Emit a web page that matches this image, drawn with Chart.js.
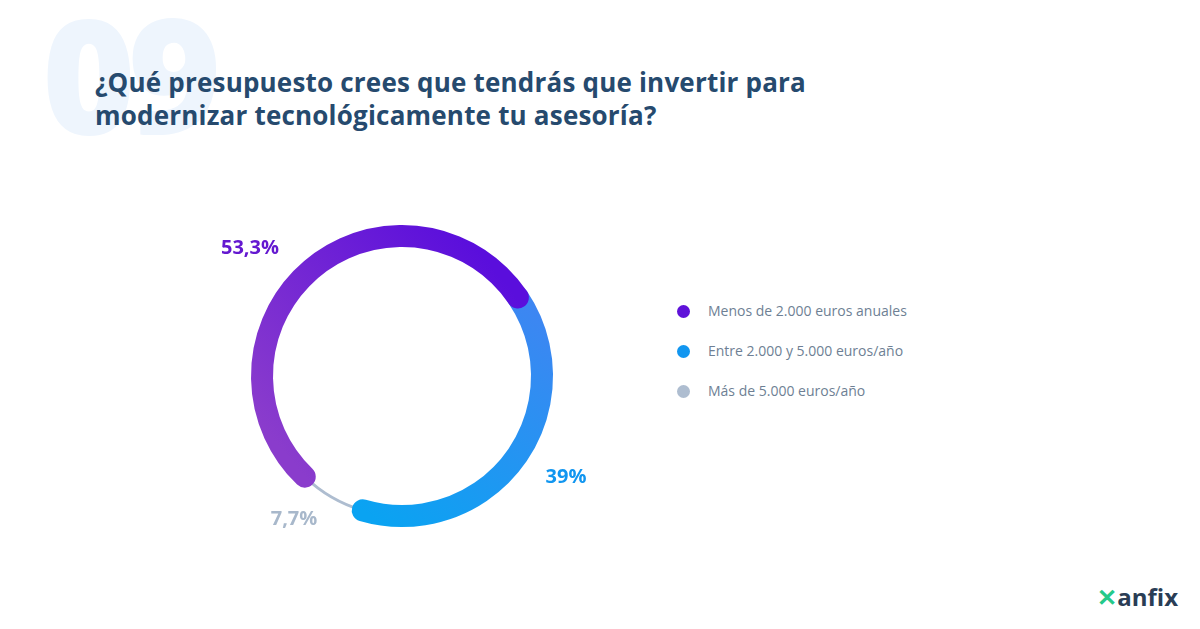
<!DOCTYPE html>
<html>
<head>
<meta charset="utf-8">
<script src="https://cdn.jsdelivr.net/npm/chart.js@4.4.0/dist/chart.umd.min.js"></script>
<style>
  body { margin:0; width:1200px; height:629px; background:#fff; font-family:"Open Sans", sans-serif; position:relative; overflow:hidden; }
  .big { position:absolute; left:42px; top:-8px; font-size:160px; font-weight:800; color:#eef5fd; letter-spacing:-8px; line-height:1; }
  h1 { position:absolute; left:95px; top:66px; margin:0; font-size:26px; line-height:33px; color:#264a6e; font-weight:700; letter-spacing:0.2px; }
  #wrap { position:absolute; left:182px; top:156px; width:440px; height:440px; }
  .legend { position:absolute; left:677px; top:301px; }
  .item { height:40px; display:flex; align-items:flex-start; font-size:14px; color:#6e7f94; }
  .dot { width:13px; height:13px; border-radius:50%; margin-right:18px; margin-top:4px; }
  .logo { position:absolute; right:22px; top:580px; font-size:24px; font-weight:700; color:#2a3d55; }
  .logo span { color:#25c98a; }
</style>
</head>
<body>
<div class="big">09</div>
<h1>¿Qué presupuesto crees que tendrás que invertir para<br>modernizar tecnológicamente tu asesoría?</h1>
<div id="wrap"><canvas id="donut"></canvas></div>
<div class="legend" id="legend"></div>
<div class="logo"><span>✕</span>anfix</div>
<script>
const categories = ['Menos de 2.000 euros anuales', 'Entre 2.000 y 5.000 euros/año', 'Más de 5.000 euros/año'];
const values = [53.3, 39, 7.7];
const valueLabels = ['53,3%', '39%', '7,7%'];
const colors = ['#5f12d9', '#1196f0', '#aebdd0'];
const labelColors = ['#6418d0', '#1196f0', '#a8b8cb'];
const widths = [22, 22, 3];
const labelOffsets = [[-152, -128], [164, 101], [-108, 143]];

const legend = document.getElementById('legend');
categories.forEach((c, i) => {
  legend.innerHTML += '<div class="item"><div class="dot" style="background:' + colors[i] + '"></div>' + c + '</div>';
});

const ringPlugin = {
  id: 'ring',
  afterDatasetsDraw(chart) {
    const ctx = chart.ctx;
    const meta = chart.getDatasetMeta(0);
    // grey first, coloured arcs on top
    [2, 1, 0].forEach(i => {
      const arc = meta.data[i];
      const r = arc.outerRadius - 20;
      const sa = arc.startAngle, ea = arc.endAngle;
      let stroke = colors[i];
      if (i < 2) {
        const x0 = arc.x + r * Math.cos(sa), y0 = arc.y + r * Math.sin(sa);
        const x1 = arc.x + r * Math.cos(ea), y1 = arc.y + r * Math.sin(ea);
        const g = ctx.createLinearGradient(x0, y0, x1, y1);
        if (i === 0) { g.addColorStop(0, '#8a3ccc'); g.addColorStop(1, '#5a0edc'); }
        else { g.addColorStop(0, '#3d86f2'); g.addColorStop(1, '#0aa3f2'); }
        stroke = g;
      }
      ctx.save();
      ctx.beginPath();
      ctx.arc(arc.x, arc.y, r, sa, ea);
      ctx.lineWidth = widths[i];
      ctx.lineCap = i < 2 ? 'round' : 'butt';
      ctx.strokeStyle = stroke;
      ctx.stroke();
      ctx.restore();
    });
    ctx.save();
    ctx.font = 'bold 20px "Open Sans"';
    ctx.textAlign = 'center';
    ctx.textBaseline = 'middle';
    const c = meta.data[0];
    valueLabels.forEach((t, i) => {
      ctx.fillStyle = labelColors[i];
      ctx.fillText(t, c.x + labelOffsets[i][0], c.y + labelOffsets[i][1]);
    });
    ctx.restore();
  }
};

new Chart(document.getElementById('donut'), {
  type: 'doughnut',
  data: {
    labels: categories,
    datasets: [{ data: values, backgroundColor: 'rgba(0,0,0,0)', borderWidth: 0 }]
  },
  options: {
    responsive: true,
    maintainAspectRatio: false,
    animation: false,
    rotation: 224,
    cutout: '70%',
    layout: { padding: 60 },
    plugins: { legend: { display: false }, tooltip: { enabled: false } }
  },
  plugins: [ringPlugin]
});
</script>
</body>
</html>
